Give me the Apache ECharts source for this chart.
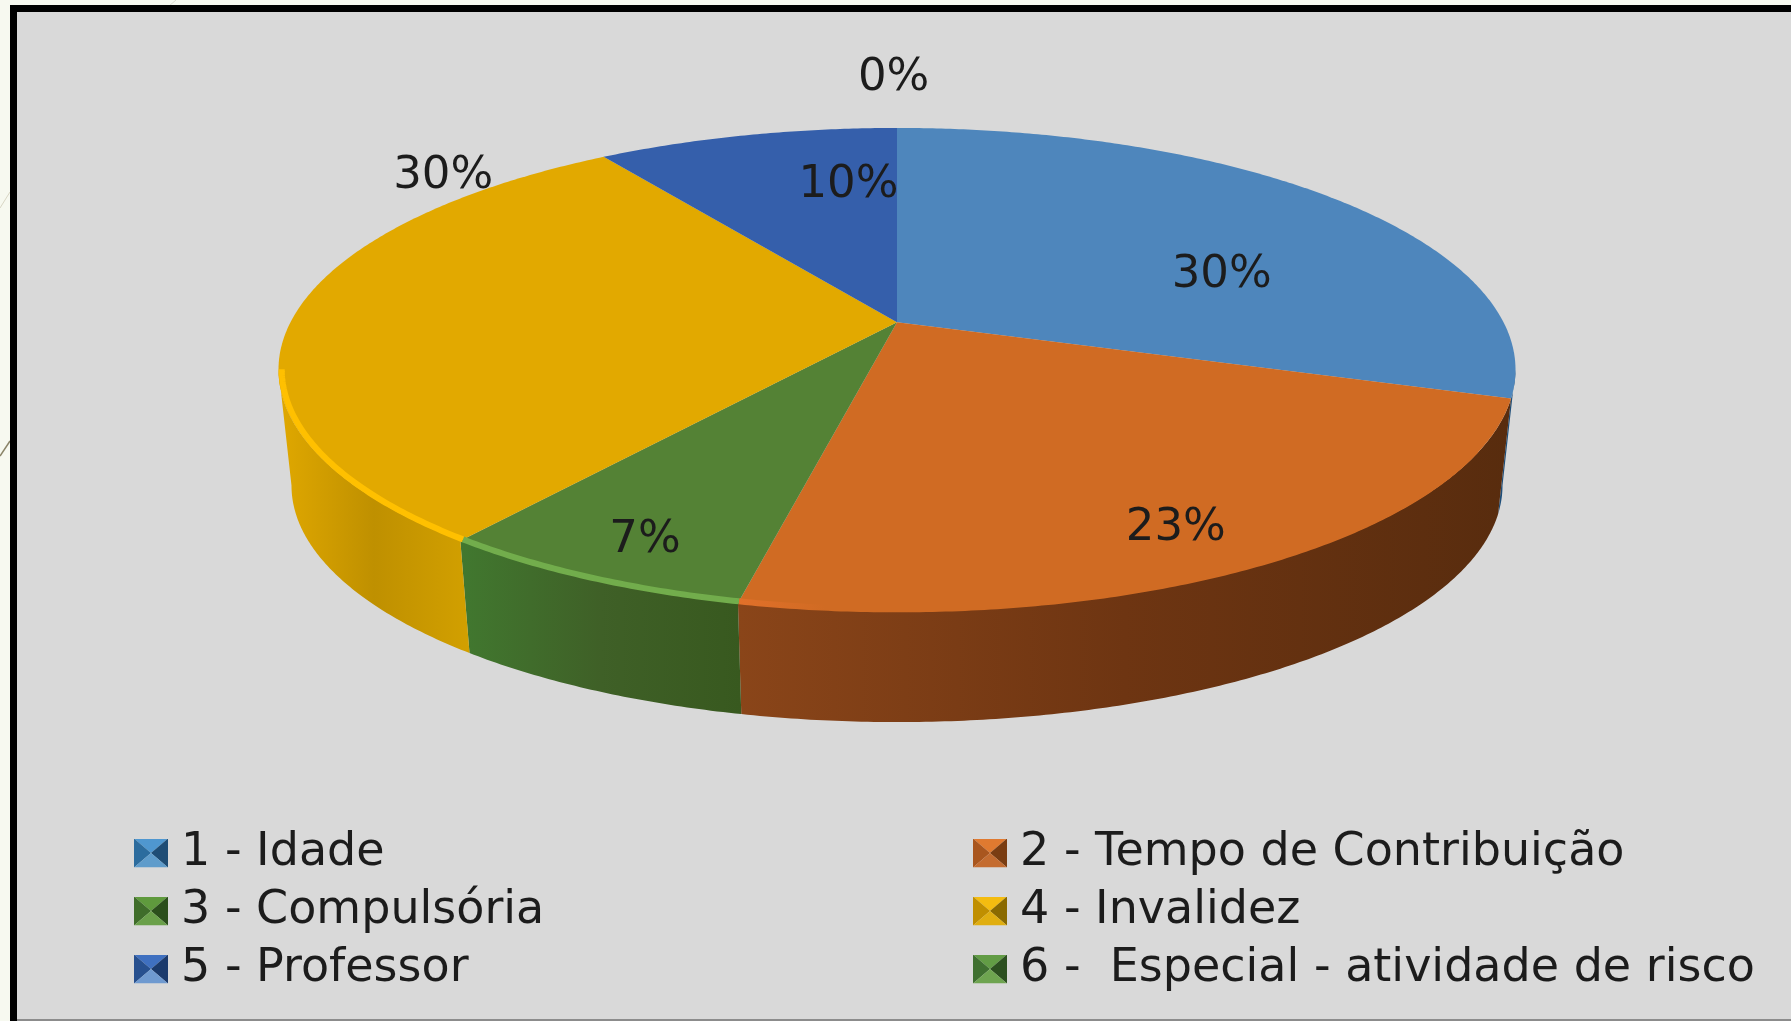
<!DOCTYPE html>
<html>
<head>
<meta charset="utf-8">
<style>
  html, body { margin: 0; padding: 0; background: #f7f9f0; }
  #chart { width: 1791px; height: 1021px; }
</style>
<script src="https://cdn.jsdelivr.net/npm/echarts@6/dist/echarts.min.js"></script>
</head>
<body>
<div id="chart"></div>
<script>
// data
const categories = ['1 - Idade', '2 - Tempo de Contribuição', '3 - Compulsória', '4 - Invalidez', '5 - Professor', '6 -  Especial - atividade de risco'];
const shares = [30.0, 23.4, 7.0, 30.1, 9.5, 0];

// colours
const topColors = ['#4e86bc', '#d06b23', '#548235', '#e2a900', '#355fab', '#5a9040'];
const wallColors = [
  ['#1f4e79', '#1f4e79', '#1f4e79'],
  ['#8a4519', '#6e3512', '#582c0e'],
  ['#41782f', '#3f6027', '#38591f'],
  ['#e0a800', '#bf9000', '#d2a000'],
  ['#1f3864', '#1f3864', '#1f3864'],
  ['#3c6a28', '#3c6a28', '#3c6a28']
];
const rimColors = ['rgba(0,0,0,0)', '#e2702a', '#72ad4c', '#ffc000', 'rgba(0,0,0,0)', 'rgba(0,0,0,0)'];
const iconColors = [
  ['#4f97d0', '#2c6c9e', '#1f4d75', '#5f9ccb'],
  ['#e07a30', '#a9561e', '#7a3d12', '#c46c30'],
  ['#5f9a3d', '#3f6d2a', '#2b4f1c', '#6aa04a'],
  ['#f4bc10', '#c08f00', '#8a6a00', '#e0ae10'],
  ['#3f70c0', '#27508f', '#1b3a6c', '#6f9ad0'],
  ['#629c45', '#3f7030', '#2c5020', '#6ea450']
];

// pie geometry, px
const cx = 897, cy = 369;
const ra = 606.5, rb = 241.5, shift = -46.8, persp = 0.196;
const wallDrop = 116, wallScale = 0.979;
// where the pie edge turns back on itself, left and right
const edgeRight = Math.acos(-persp) * 180 / Math.PI;
const edgeLeft = 360 - edgeRight;

// label spots on the pie plane: angle from 12 o'clock, radius as share of the pie
const labelAngle = [68, 152.3, 204.2, 310.5, 352.4, 359.7];
const labelRadius = [0.603, 0.844, 0.858, 1.125, 0.686, 1.342];

function project(deg, r) {
  const t = deg * Math.PI / 180;
  const u = r * Math.sin(t), v = -r * Math.cos(t);
  const d = 1 - persp * v;
  return [ra * u / d, (rb * v + shift) / d];
}
function topPoint(deg, r) {
  const p = project(deg, r);
  return [cx + p[0], cy + p[1]];
}
function wallPoint(deg) {
  const p = project(deg, 1);
  return [cx + p[0] * wallScale, cy + p[1] * wallScale + wallDrop];
}
function arc(from, to, fn) {
  const pts = [];
  const n = Math.max(2, Math.ceil((to - from) / 0.5));
  for (let i = 0; i <= n; i++) pts.push(fn(from + (to - from) * i / n));
  return pts;
}

const total = shares.reduce((a, b) => a + b, 0);
const startAngle = [];
shares.reduce((acc, v, i) => { startAngle[i] = acc / total * 360; return acc + v; }, 0);

function renderSlice(params, api) {
  const i = params.seriesIndex;
  const from = startAngle[i];
  const to = from + api.value(0) / total * 360;
  const children = [];

  // outer wall, front part only
  const wFrom = Math.max(from, edgeRight), wTo = Math.min(to, edgeLeft);
  if (wTo > wFrom) {
    const upper = arc(wFrom, wTo, a => topPoint(a, 1));
    const lower = arc(wFrom, wTo, wallPoint).reverse();
    children.push({
      type: 'polygon',
      z2: 1,
      shape: { points: upper.concat(lower) },
      style: {
        fill: new echarts.graphic.LinearGradient(0, 0, 1, 0, [
          { offset: 0, color: wallColors[i][0] },
          { offset: 0.5, color: wallColors[i][1] },
          { offset: 1, color: wallColors[i][2] }
        ])
      }
    });
  }

  // top face
  if (to > from) {
    children.push({
      type: 'polygon',
      z2: 2,
      shape: { points: [[cx, cy + shift]].concat(arc(from, to, a => topPoint(a, 1))) },
      style: { fill: topColors[i] }
    });
  }

  // lit rim on the front edge
  const rFrom = Math.max(from, 120), rTo = Math.min(to, edgeLeft);
  if (rTo > rFrom) {
    children.push({
      type: 'polyline',
      z2: 3,
      shape: { points: arc(rFrom, rTo, a => topPoint(a, 0.995)) },
      style: {
        fill: null,
        lineWidth: 6,
        stroke: i === 1
          ? new echarts.graphic.LinearGradient(0, 0, 1, 0, [
              { offset: 0, color: rimColors[i] },
              { offset: 0.12, color: topColors[i] },
              { offset: 1, color: topColors[i] }
            ])
          : rimColors[i]
      }
    });
  }

  // percent label
  const lp = topPoint(labelAngle[i], labelRadius[i]);
  children.push({
    type: 'text',
    z2: 4,
    style: {
      x: lp[0],
      y: lp[1] + 3,
      text: Math.round(api.value(0) / total * 100) + '%',
      font: '45px "DejaVu Sans"',
      fill: '#1c1c1c',
      align: 'center',
      verticalAlign: 'middle'
    }
  });
  return { type: 'group', children: children };
}

function bevelIcon(c) {
  const svg = '<svg xmlns="http://www.w3.org/2000/svg" width="34" height="29">' +
    '<polygon points="0,0 34,0 17,14.5" fill="' + c[0] + '"/>' +
    '<polygon points="0,0 17,14.5 0,29" fill="' + c[1] + '"/>' +
    '<polygon points="34,0 17,14.5 34,29" fill="' + c[2] + '"/>' +
    '<polygon points="0,29 17,14.5 34,29" fill="' + c[3] + '"/></svg>';
  return 'image://data:image/svg+xml;charset=utf-8,' + encodeURIComponent(svg);
}

function legendFor(idx, left) {
  return {
    orient: 'vertical',
    left: left,
    top: 830,
    padding: 0,
    itemGap: 12,
    itemWidth: 34,
    itemHeight: 29,
    selectedMode: false,
    textStyle: {
      fontFamily: 'DejaVu Sans',
      fontSize: 46,
      color: '#1c1c1c',
      padding: [0, 0, 0, 8]
    },
    data: idx.map(i => ({ name: categories[i], icon: bevelIcon(iconColors[i]) }))
  };
}

const chart = echarts.init(document.getElementById('chart'), null, { renderer: 'canvas' });
chart.setOption({
  animation: false,
  backgroundColor: '#f7f9f0',
  legend: [legendFor([0, 2, 4], 134), legendFor([1, 3, 5], 973)],
  graphic: [
    { type: 'line', shape: { x1: 0, y1: 208, x2: 10, y2: 192 }, style: { stroke: '#d8d6c4', lineWidth: 1 } },
    { type: 'line', shape: { x1: 0, y1: 456, x2: 10, y2: 441 }, style: { stroke: '#8a8468', lineWidth: 1.5 } },
    { type: 'line', shape: { x1: 162, y1: 12, x2: 176, y2: 0 }, style: { stroke: '#dcdcd0', lineWidth: 1 } },
    { type: 'rect', shape: { x: 10, y: 5, width: 1781, height: 1016 }, style: { fill: '#000' } },
    { type: 'rect', shape: { x: 17, y: 12, width: 1774, height: 1007 }, style: { fill: '#d9d9d9' } },
    { type: 'rect', shape: { x: 17, y: 1019, width: 1774, height: 2 }, style: { fill: '#8c8c8c' } }
  ],
  series: categories.map((name, i) => ({
    type: 'custom',
    name: name,
    coordinateSystem: 'none',
    silent: true,
    z: 5,
    itemStyle: { color: topColors[i] },
    renderItem: renderSlice,
    data: [[shares[i]]]
  }))
});
</script>
</body>
</html>
